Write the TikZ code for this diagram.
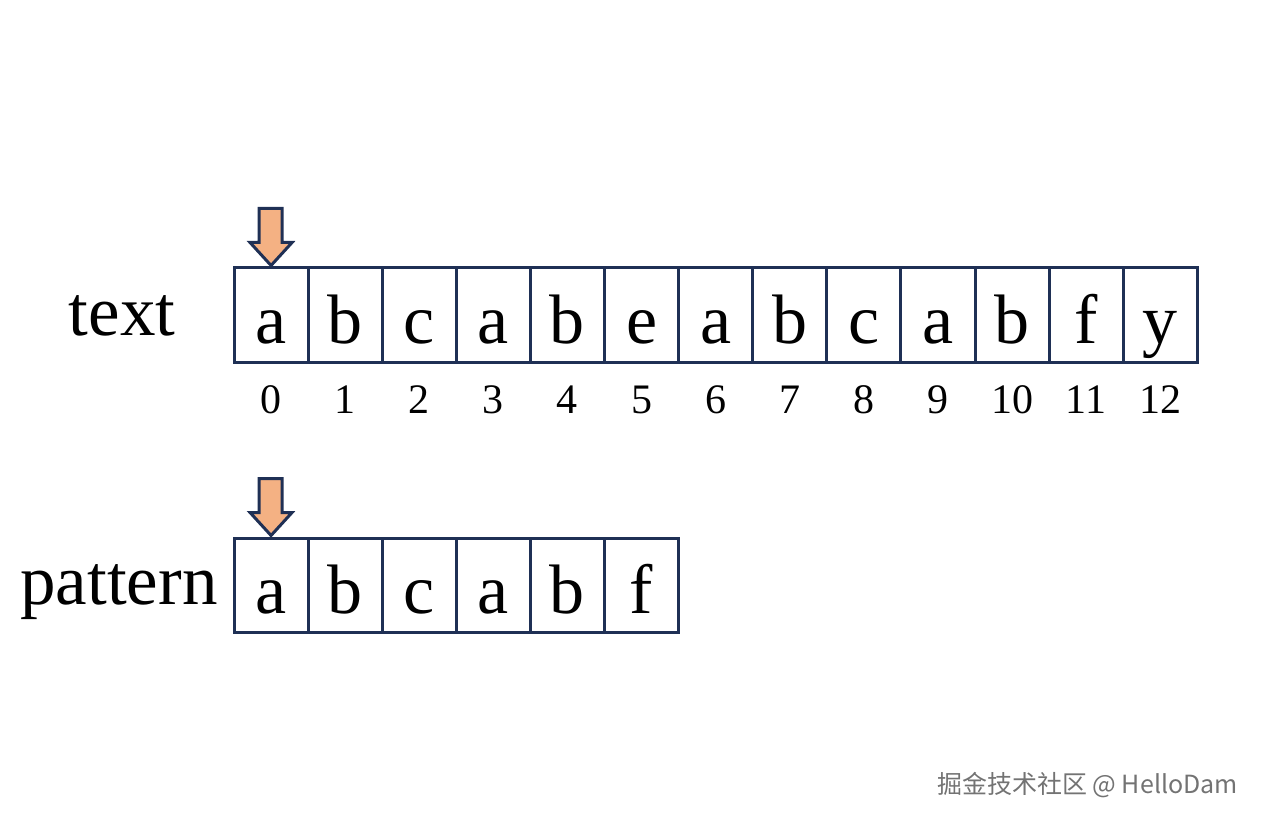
\documentclass[tikz,border=0pt]{standalone}
\usepackage{fontspec}
\setmainfont{Liberation Serif}
\newfontfamily\cjk{Noto Sans CJK SC}
\definecolor{boxline}{HTML}{1F3055}
\definecolor{arrowfill}{HTML}{F4B183}
\tikzset{
    cell/.style={draw=boxline,line width=3pt,minimum width=74.1pt,minimum height=94pt,
        inner sep=0pt,text height=60pt,text depth=4pt,font=\fontsize{70}{70}\selectfont},
    idx/.style={anchor=base,inner sep=0pt,font=\fontsize{42}{42}\selectfont},
    lbl/.style={anchor=base,inner sep=0pt,font=\fontsize{71}{71}\selectfont},
    pointer/.style={draw=boxline,line width=3pt,fill=arrowfill,line join=miter}
}
\begin{document}
\begin{tikzpicture}[x=1pt,y=-1pt]
            \useasboundingbox (0,0) rectangle (1264,821);
            % text row
            \node[lbl] (textlbl) at (122,335) {text};
            \foreach \c [count=\i from 0] in {a,b,c,a,b,e,a,b,c,a,b,f,y} {
                \node[cell] (t\i) at (271.05+74.1*\i,315) {\c};
                \node[idx] (n\i) at (271.05+74.1*\i,413) {\i};
            }
            % pattern row
            \node[lbl] (patlbl) at (119,604) {pattern};
            \foreach \c [count=\i from 0] in {a,b,c,a,b,f} {
                \node[cell] (p\i) at (271.05+74.1*\i,585) {\c};
            }
            % pointers
            \draw[pointer,shift={(t0.north)}] (-12,-58) -- (11,-58) -- (11,-24) -- (21,-24)
                -- (0,-1) -- (-21,-24) -- (-12,-24) -- cycle;
            \draw[pointer,shift={(p0.north)}] (-12,-58) -- (11,-58) -- (11,-24) -- (21,-24)
                -- (0,-1) -- (-21,-24) -- (-12,-24) -- cycle;
            % watermark
            \node[anchor=east,text=gray!90!black,inner sep=0pt,font=\fontsize{25}{25}\cjk] (mark) at (1238,785)
                {掘金技术社区 @ HelloDam};
        \end{tikzpicture}
\end{document}
